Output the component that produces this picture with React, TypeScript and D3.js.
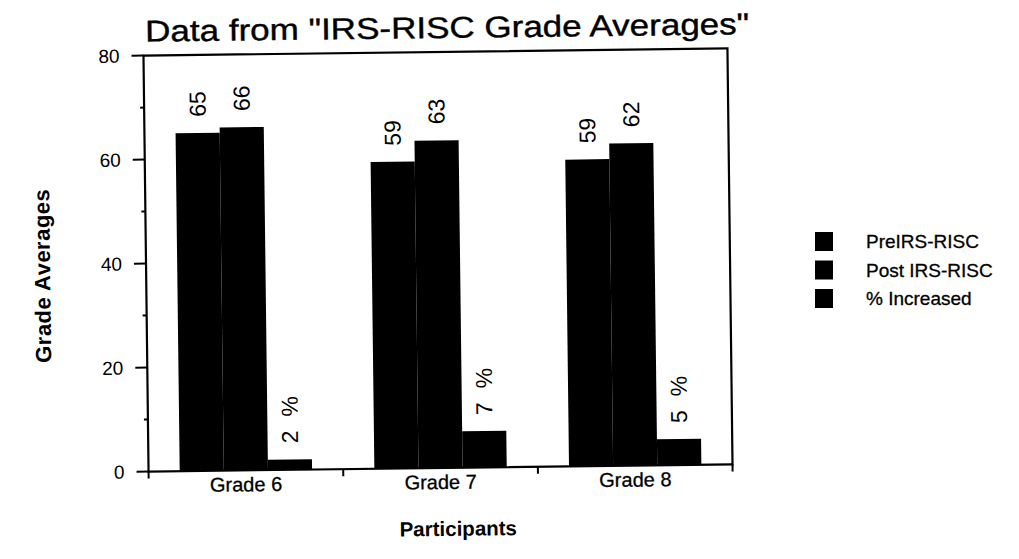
import React from "react";
import * as d3 from "d3";

const categories = ["Grade 6", "Grade 7", "Grade 8"];
const seriesNames = ["PreIRS-RISC", "Post IRS-RISC", "% Increased"];
const preValues = [65, 59, 59];
const postValues = [66, 63, 62];
const pctValues = [2, 7, 5];
const yTicks = [0, 20, 40, 60, 80];
const yMinorTicks = [10, 30, 50, 70];

const W = 1019;
const H = 559;
const FONT = "'Liberation Sans', Arial, Helvetica, sans-serif";

export default function App() {
  const left = 146, right = 730, top = 52, bottom = 468;
  const y = d3.scaleLinear().domain([0, 80]).range([bottom, top]);
  const x0 = d3
    .scaleBand<string>()
    .domain(categories)
    .range([left, right])
    .paddingInner(0.32)
    .paddingOuter(0.16);
  const x1 = d3.scaleBand<string>().domain(seriesNames).range([0, x0.bandwidth()]);
  const valuesBySeries = [preValues, postValues, pctValues];
  const half = (x0.step() * x0.paddingInner()) / 2;
  const boundaries = [left, ...categories.slice(1).map((c) => (x0(c) as number) - half), right];
  const valueFont = 23;
  const capOff = valueFont * 0.36;

  return (
    <svg
      width={W}
      height={H}
      style={{ position: "absolute", left: 0, top: 0, background: "#fff" }}
      fontFamily={FONT}
    >
      <rect x={0} y={0} width={W} height={H} fill="#fff" />
      <g transform="rotate(-0.7 438 260)">
        <text x={148} y={38} fontSize={30} textLength={604} lengthAdjust="spacingAndGlyphs" fill="#000" stroke="#000" strokeWidth={0.4}>
          Data from "IRS-RISC Grade Averages"
        </text>

        {/* bars */}
        {categories.map((c, ci) =>
          seriesNames.map((s, si) => {
            const v = valuesBySeries[si][ci];
            const bx = (x0(c) as number) + (x1(s) as number);
            return (
              <rect
                key={c + s}
                x={bx}
                y={y(v)}
                width={x1.bandwidth()}
                height={y(0) - y(v)}
                fill="#000"
              />
            );
          })
        )}

        {/* value labels */}
        {categories.map((c, ci) =>
          seriesNames.map((s, si) => {
            const v = valuesBySeries[si][ci];
            const cx = (x0(c) as number) + (x1(s) as number) + x1.bandwidth() / 2 + capOff;
            const ty = y(v) - 16;
            return (
              <text
                key={"l" + c + s}
                x={cx}
                y={ty}
                fontSize={valueFont}
                transform={`rotate(-90 ${cx} ${ty})`}
                fill="#000"
              >
                <tspan>{v}</tspan>
                {si === 2 ? <tspan dx={14}>%</tspan> : null}
              </text>
            );
          })
        )}

        {/* frame */}
        <rect x={left} y={top} width={right - left} height={bottom - top} fill="none" stroke="#000" strokeWidth={2.2} />

        {/* y ticks */}
        {yTicks.map((t) => (
          <g key={"yt" + t}>
            <line x1={left - 12} x2={left} y1={y(t)} y2={y(t)} stroke="#000" strokeWidth={2} />
            <text x={left - 24} y={y(t)} dy="0.36em" textAnchor="end" fontSize={19} fill="#000">
              {t}
            </text>
          </g>
        ))}
        {yMinorTicks.map((t) => (
          <line key={"ym" + t} x1={left - 4} x2={left} y1={y(t)} y2={y(t)} stroke="#000" strokeWidth={2} />
        ))}

        {/* x ticks */}
        {boundaries.map((b, i) => (
          <line key={"xt" + i} x1={b} x2={b} y1={bottom} y2={bottom + 7} stroke="#000" strokeWidth={2} />
        ))}

        {/* category labels */}
        {categories.map((c) => (
          <text
            key={"c" + c}
            x={(x0(c) as number) + x0.bandwidth() / 2}
            y={489}
            textAnchor="middle"
            fontSize={20}
            fill="#000"
            stroke="#000"
            strokeWidth={0.3}
          >
            {c}
          </text>
        ))}

        <text x={455} y={536} textAnchor="middle" fontSize={20.5} fontWeight="bold" fill="#000">
          Participants
        </text>

        <text
          x={0}
          y={0}
          transform="translate(50 271) rotate(-90)"
          textAnchor="middle"
          fontSize={22}
          fontWeight="bold"
          letterSpacing={0.5}
          fill="#000"
        >
          Grade Averages
        </text>
      </g>

      {/* legend */}
      {seriesNames.map((s, i) => (
        <g key={"lg" + s} transform={`translate(815 ${232 + i * 28.5})`}>
          <rect x={0} y={0} width={18} height={19} fill="#000" />
          <text x={51} y={16} fontSize={19} fill="#000" stroke="#000" strokeWidth={0.3}>
            {s}
          </text>
        </g>
      ))}
    </svg>
  );
}
